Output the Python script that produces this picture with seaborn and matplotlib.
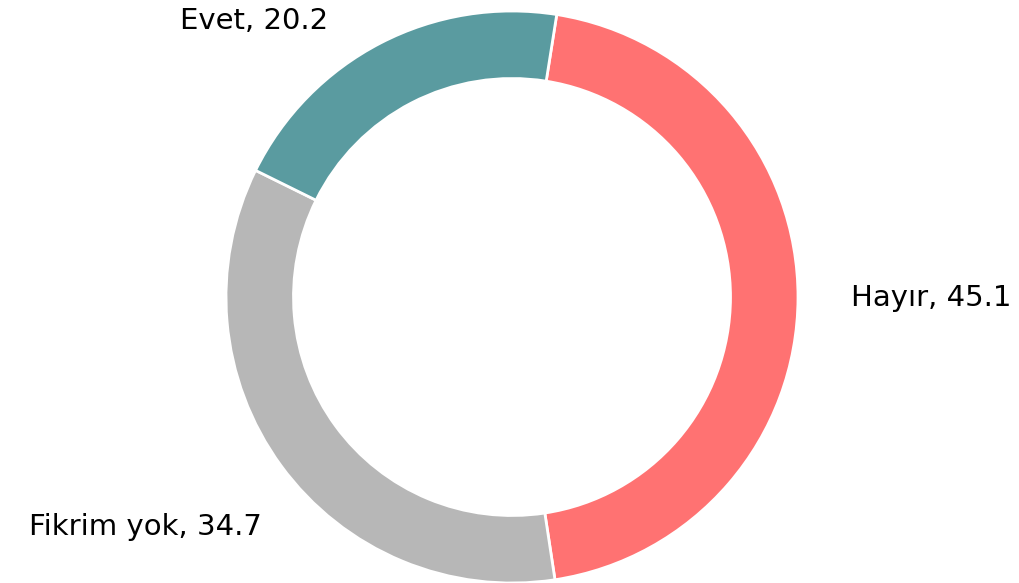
import seaborn as sns
import matplotlib.pyplot as plt

# data
labels = ['Hayır', 'Fikrim yok', 'Evet']
values = [45.1, 34.7, 20.2]
colors = ['#FF7272', '#B7B7B7', '#5A9BA0']

sns.set_theme(style='white')
plt.rcParams['font.family'] = ['DejaVu Sans']

fig = plt.figure(figsize=(10.2, 5.83), dpi=100)
ax = fig.add_axes([226 / 1020, 0.0, 572 / 1020, 572 / 583])

wedges, _ = ax.pie(values, colors=sns.color_palette(colors), startangle=81,
                   counterclock=False, radius=1.0,
                   wedgeprops={'width': 0.236, 'edgecolor': 'white', 'linewidth': 2})
ax.set_xlim(-1, 1)
ax.set_ylim(-1, 1)
ax.set_aspect('equal')
ax.axis('off')

# outside labels "name, value"
label_pos = [(1.185, -0.031, 'left'), (-0.874, -0.832, 'right'), (-0.643, 0.937, 'right')]
for (x, y, ha), lab, val in zip(label_pos, labels, values):
    ax.text(x, y, f'{lab}, {val}', ha=ha, va='baseline', fontsize=21,
            color='black', clip_on=False)

fig.savefig('out.png', dpi=100)
